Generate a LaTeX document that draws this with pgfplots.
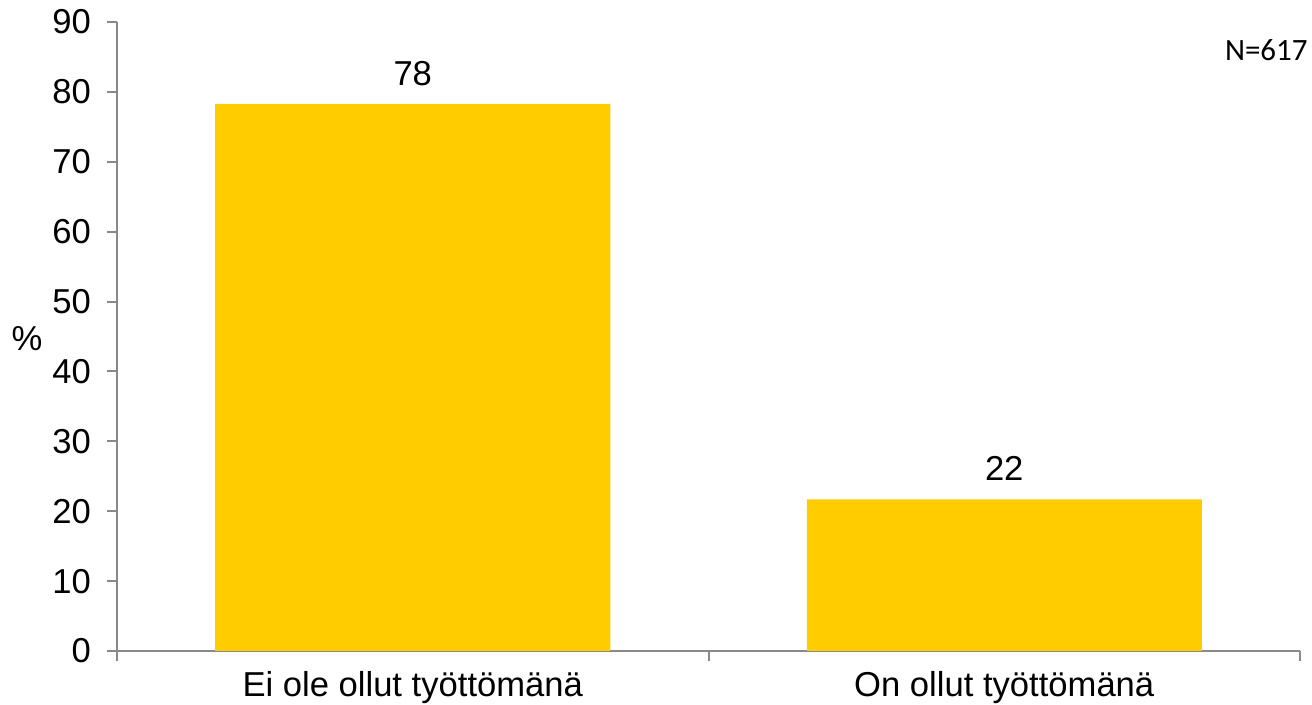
\documentclass[border=0pt]{standalone}
\usepackage{fontspec}
\setmainfont{Liberation Sans}
\newfontfamily\calibri{Carlito}
\usepackage{pgfplots}
\pgfplotsset{compat=1.18}
\definecolor{bargold}{HTML}{FFCC00}
\definecolor{axisgray}{HTML}{898989}
\begin{document}
\begin{tikzpicture}
\begin{axis}[
    scale only axis,
    width=591.5pt, height=314.5pt,
    xmin=-0.5, xmax=1.5, ymin=0, ymax=90,
    axis lines=left,
    axis line style={axisgray, line width=1pt, -},
    ytick={0,10,...,90},
    xtick={0,1},
    xticklabels={Ei ole ollut työttömänä, On ollut työttömänä},
    major x tick style={draw=none},
    minor xtick={-0.5,0.5,1.5},
    tick align=outside,
    major tick length=5pt, minor tick length=5pt,
    every tick/.style={axisgray, line width=1pt},
    /pgf/number format/assume math mode=true,
    tick label style={font=\fontsize{17.3}{20}\selectfont},
    yticklabel style={xshift=-4.5pt},
    xticklabel style={yshift=-1.5pt},
    ylabel={\%},
    every axis y label/.style={at={(rel axis cs:0,0.5)}, anchor=center, xshift=-45pt, yshift=-1pt, font=\fontsize{17.3}{20}\selectfont},
    clip=false,
]
\addplot[ybar, bar width=197.5pt, fill=bargold, draw=none,
    point meta=explicit symbolic,
    nodes near coords=\pgfplotspointmeta,
    every node near coord/.style={font=\fontsize{17.3}{20}\selectfont, inner sep=0pt, anchor=south, yshift=9pt}]
    coordinates {(0,78.3) [78] (1,21.7) [22]};
\node[anchor=base east, inner sep=0pt, font=\calibri\fontsize{15.5}{18}\selectfont]
    at ([xshift=4pt, yshift=-19.5pt]rel axis cs:1,1) {N=617};
\end{axis}
\pgfresetboundingbox
\path ([shift={(-58.5pt,-27pt)}]current axis.south west) rectangle ([shift={(6pt,11pt)}]current axis.north east);
\end{tikzpicture}
\end{document}
